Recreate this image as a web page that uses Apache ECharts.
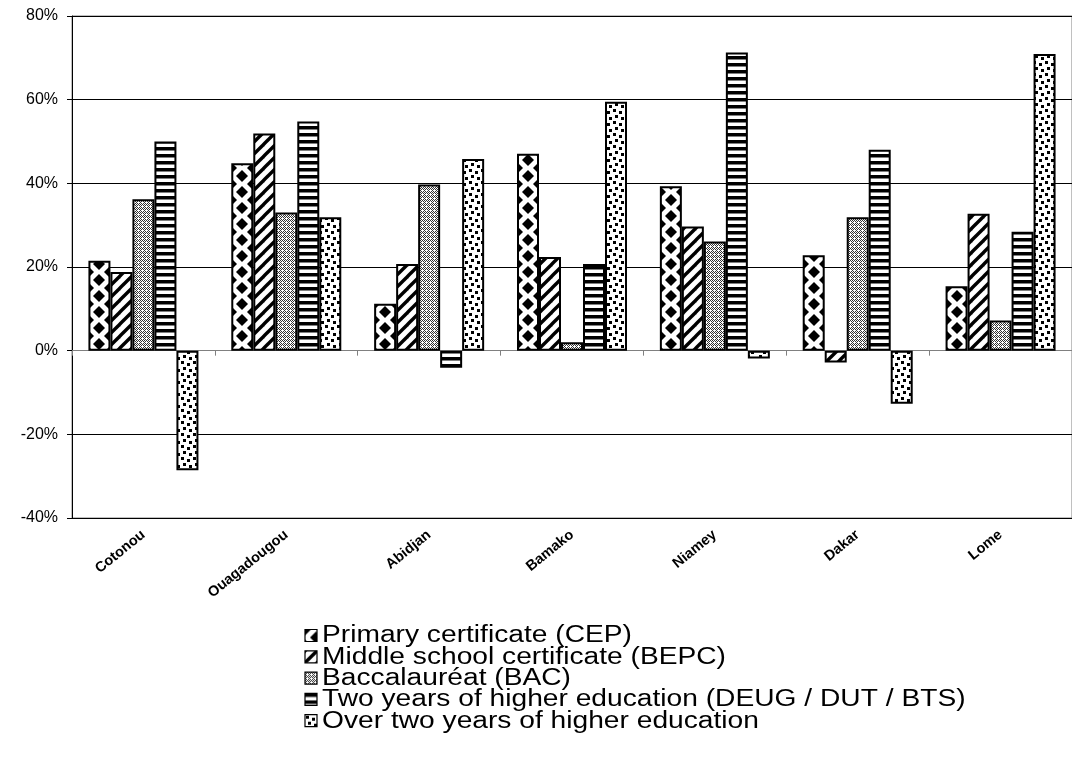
<!DOCTYPE html>
<html>
<head>
<meta charset="utf-8">
<script src="https://cdn.jsdelivr.net/npm/echarts@6/dist/echarts.min.js"></script>
<style>
html,body{margin:0;padding:0;background:#fff;}
#chart{width:1072px;height:763px;}
</style>
</head>
<body>
<div id="chart"></div>
<script>
const cities = ['Cotonou','Ouagadougou','Abidjan','Bamako','Niamey','Dakar','Lome'];
const seriesNames = [
  'Primary certificate (CEP)',
  'Middle school certificate (BEPC)',
  'Baccalauréat (BAC)',
  'Two years of higher education (DEUG / DUT / BTS)',
  'Over two years of higher education'
];
const cep  = [21.5, 44.8, 11.2, 47.1, 39.3, 22.8, 15.4];
const bepc = [18.8, 51.9, 20.7, 22.4, 29.7, -2.8, 32.7];
const bac  = [36.2, 33.0, 39.7, 2.0, 26.1, 31.9, 7.2];
const deug = [50.0, 54.8, -4.1, 20.7, 71.3, 48.0, 28.4];
const over = [-28.6, 31.9, 45.8, 59.5, -1.9, -12.7, 70.9];
const yTicks = [-40, -20, 0, 20, 40, 60, 80];

function tile(w, h, draw) {
  const c = document.createElement('canvas');
  c.width = w; c.height = h;
  const g = c.getContext('2d');
  g.fillStyle = '#fff'; g.fillRect(0, 0, w, h);
  g.fillStyle = '#000'; g.strokeStyle = '#000';
  draw(g, w, h);
  return c;
}
function diamond(g, cx, cy, rx, ry) {
  g.beginPath();
  g.moveTo(cx, cy - ry); g.lineTo(cx + rx, cy); g.lineTo(cx, cy + ry); g.lineTo(cx - rx, cy);
  g.closePath(); g.fill();
}
const pCep = tile(22, 16, (g, w, h) => {
  diamond(g, 11, 8, 6, 6);
  [[0,0],[22,0],[0,16],[22,16]].forEach(p => diamond(g, p[0], p[1], 6, 6));
});
const pBepc = tile(12, 12, (g, w, h) => {
  g.lineWidth = 3.4;
  for (let k = -1; k <= 1; k++) {
    g.beginPath(); g.moveTo(k * 12 - 2, 14); g.lineTo(k * 12 + 14, -2); g.stroke();
  }
});
const pBac = tile(4, 4, (g, w, h) => {
  g.fillStyle = '#333';
  g.fillRect(0, 0, 1, 1); g.fillRect(2, 0, 1, 1); g.fillRect(1, 1, 1, 1); g.fillRect(3, 1, 1, 1);
  g.fillRect(0, 2, 1, 1); g.fillRect(3, 3, 1, 1); g.fillRect(1, 3, 1, 1);
});
const pDeug = tile(7, 7, (g, w, h) => {
  g.fillRect(0, 0, 7, 3.5);
});
const pOver = tile(12, 12, (g, w, h) => {
  g.fillRect(1, 1, 3, 3); g.fillRect(7, 3, 3, 3);
  g.fillRect(3, 7, 3, 3); g.fillRect(9, 9, 3, 3);
});
const patterns = [pCep, pBepc, pBac, pDeug, pOver];
const values = [cep, bepc, bac, deug, over];

const chart = echarts.init(document.getElementById('chart'), null, {renderer: 'canvas'});
const font = 'Liberation Sans, Arial, sans-serif';

const legendGraphics = [];
seriesNames.forEach((n, i) => {
  const cy = 636 + i * 21.3;
  legendGraphics.push({
    type: 'rect', x: 305, y: cy - 6.5, shape: {width: 12, height: 12},
    style: {fill: {image: patterns[i], repeat: 'repeat'}, stroke: '#000', lineWidth: 1.2}
  });
  legendGraphics.push({
    type: 'text', x: 322, y: cy, scaleX: 1.225, scaleY: 1,
    style: {text: n, fontFamily: font, fontSize: 23, fill: '#000', verticalAlign: 'middle', align: 'left'}
  });
});

chart.setOption({
  animation: false,
  textStyle: {fontFamily: font, color: '#000'},
  grid: {left: 72, top: 16, right: -4, bottom: 245, show: true, borderColor: '#808080', borderWidth: 1},
  graphic: legendGraphics,
  xAxis: [
    {type: 'category', data: cities, axisLine: {onZero: true, lineStyle: {color: '#808080', width: 1}},
     axisTick: {show: true, inside: false, length: 5, lineStyle: {color: '#808080'}},
     axisLabel: {show: false}, splitLine: {show: false}},
    {type: 'category', data: cities, position: 'bottom', axisLine: {show: false, onZero: false},
     axisTick: {show: false},
     axisLabel: {rotate: 39, margin: 15, fontFamily: font, fontSize: 14.5, fontWeight: 'bold', color: '#000'}}
  ],
  yAxis: {
    type: 'value', min: yTicks[0], max: yTicks[yTicks.length - 1], interval: 20,
    axisLine: {show: true, lineStyle: {color: '#000'}},
    axisTick: {show: true, length: 5, lineStyle: {color: '#000'}},
    axisLabel: {formatter: v => v + '%', fontFamily: font, fontSize: 16, color: '#000', margin: 14},
    splitLine: {show: true, lineStyle: {color: '#000', width: 1}}
  },
  series: seriesNames.map((n, i) => ({
    name: n, type: 'bar', xAxisIndex: 0, data: values[i],
    barGap: '0%', barCategoryGap: '23%',
    itemStyle: {color: {image: patterns[i], repeat: 'repeat'}, borderColor: '#000', borderWidth: 2}
  }))
});
</script>
</body>
</html>
